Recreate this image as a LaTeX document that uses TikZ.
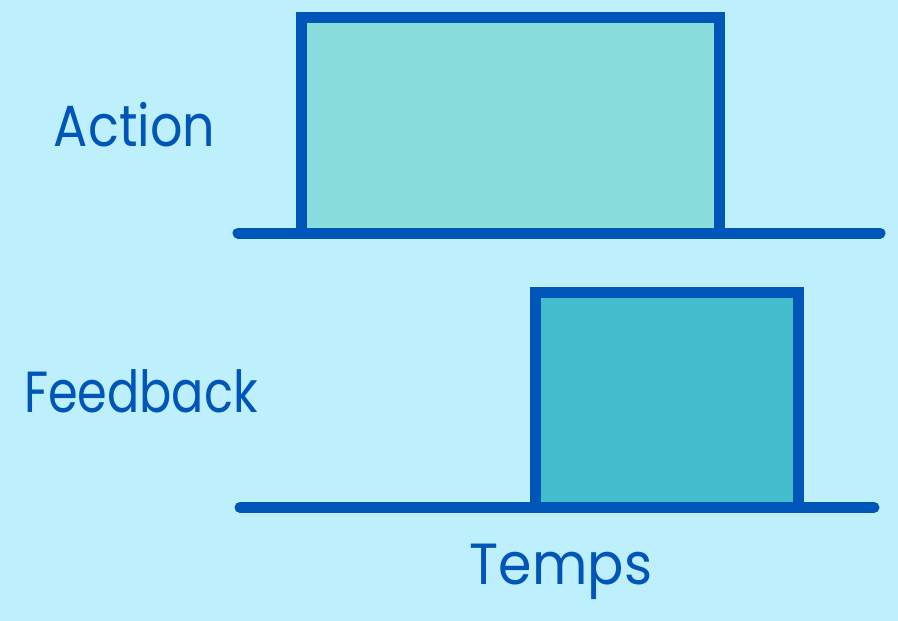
\documentclass[tikz,border=0pt]{standalone}
\usepackage{fontspec}
\setmainfont{Poppins}
\definecolor{bgcyan}{HTML}{BDEFFC}
\definecolor{lineblue}{HTML}{0055B8}
\definecolor{actfill}{HTML}{8ADDDD}
\definecolor{fbfill}{HTML}{43BCCC}
\begin{document}
\begin{tikzpicture}[x=1pt,y=-1pt,
  pulse/.style={draw=lineblue,line width=11pt,line cap=round,line join=miter},
  axis/.style={draw=lineblue,line width=11pt,line cap=round},
  lbl/.style={text=lineblue,font=\fontsize{58}{60}\selectfont,anchor=base,inner sep=0pt}]
  % background and page size
  \fill[bgcyan] (0,0) rectangle (898,621);
  \useasboundingbox (0,0) rectangle (898,621);
  % action pulse
  \filldraw[pulse,fill=actfill] (301.5,233) -- (301.5,17.5) -- (719,17.5) -- (719,233);
  \draw[axis] (238,233) -- (880,233);
  % feedback pulse
  \filldraw[pulse,fill=fbfill] (535,507.5) -- (535,292) -- (798,292) -- (798,507.5);
  \draw[axis] (240,507.5) -- (874,507.5);
  % labels
  \node[lbl,xscale=0.876] (action) at (134.5,146) {Action};
  \node[lbl,xscale=0.823] (feedback) at (141,412) {Feedback};
  \node[lbl,xscale=0.927] (temps) at (561,584) {Temps};
\end{tikzpicture}
\end{document}
